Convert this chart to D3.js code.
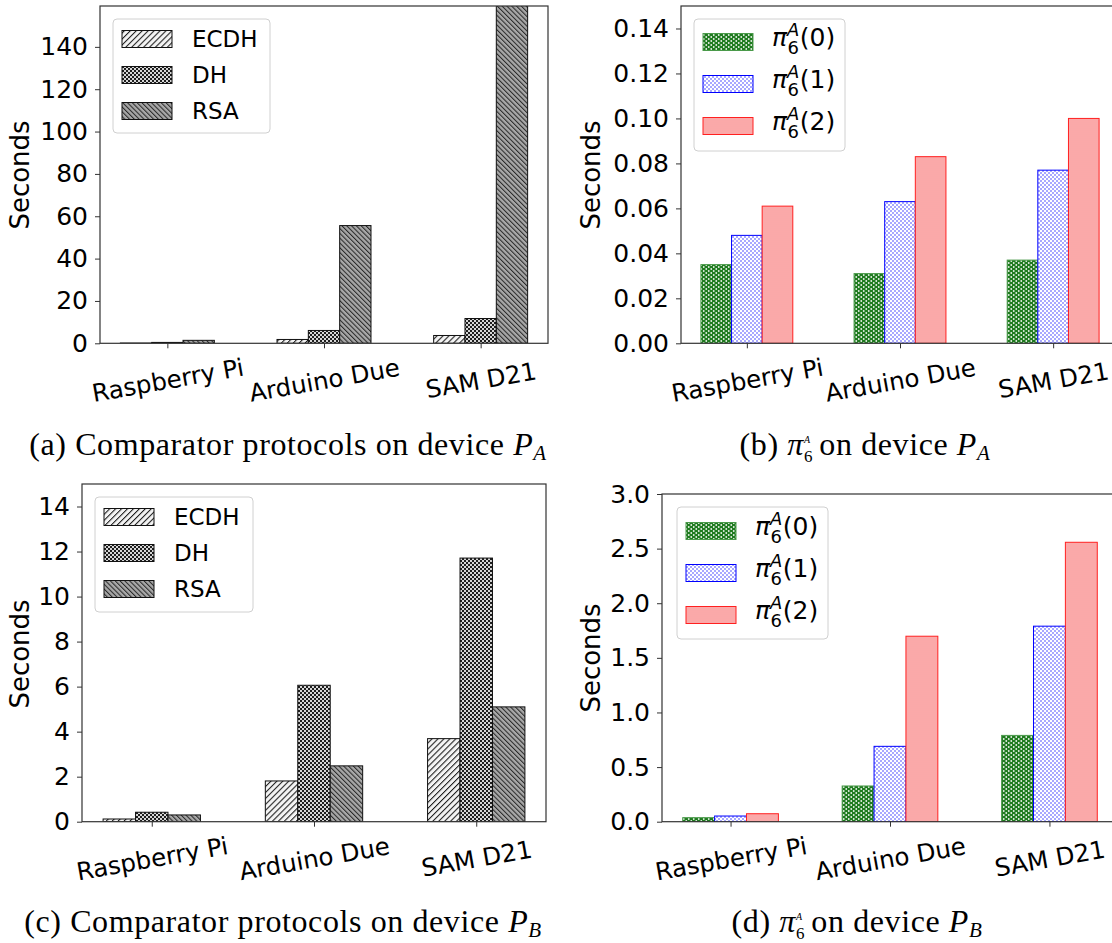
<!DOCTYPE html>
<html>
<head>
<meta charset="utf-8">
<script src="https://cdn.jsdelivr.net/npm/d3@7"></script>
<style>
  body { margin: 0; background: #fff; }
  svg { display: block; }
  .tick text { font-family: "DejaVu Sans", sans-serif; fill: #000; }
</style>
</head>
<body>
<svg id="fig" width="1112" height="943"></svg>
<script>
// categories on the x axis
var devices = ['Raspberry Pi', 'Arduino Due', 'SAM D21'];

// (a) comparator protocols on P_A (seconds)
var ecdhPA = [0.12, 1.81, 3.69];
var dhPA = [0.42, 6.06, 11.71];
var rsaPA = [1.4, 55.6, 165];   // SAM D21 runs off the top of the axis

// (c) comparator protocols on P_B
var ecdhPB = [0.12, 1.81, 3.69];
var dhPB = [0.42, 6.06, 11.71];
var rsaPB = [0.3, 2.48, 5.1];

// (b) pi_6^A on P_A
var pi0PA = [0.035, 0.031, 0.037];
var pi1PA = [0.048, 0.063, 0.077];
var pi2PA = [0.061, 0.083, 0.100];

// (d) pi_6^A on P_B
var pi0PB = [0.037, 0.327, 0.79];
var pi1PB = [0.052, 0.69, 1.79];
var pi2PB = [0.073, 1.698, 2.558];

var protoNames = ['ECDH', 'DH', 'RSA'];
var piNames = ['0', '1', '2'];

var ticksA = [0, 20, 40, 60, 80, 100, 120, 140];
var ticksB = [0, 0.02, 0.04, 0.06, 0.08, 0.10, 0.12, 0.14];
var ticksC = [0, 2, 4, 6, 8, 10, 12, 14];
var ticksD = [0, 0.5, 1.0, 1.5, 2.0, 2.5, 3.0];

var svg = d3.select('#fig');
var defs = svg.append('defs');

// hatch patterns (imitating matplotlib hatches)
function linePattern(id, size, angle, bg, stroke, sw) {
    var p = defs.append('pattern').attr('id', id)
        .attr('patternUnits', 'userSpaceOnUse')
        .attr('width', size).attr('height', size)
        .attr('patternTransform', 'rotate(' + angle + ')');
    p.append('rect').attr('width', size).attr('height', size).attr('fill', bg);
    p.append('line').attr('x1', 0.5).attr('y1', 0).attr('x2', 0.5).attr('y2', size)
        .attr('stroke', stroke).attr('stroke-width', sw);
}
linePattern('pEcdh', 4.2, 45, '#f4f4f4', '#1a1a1a', 1.1);
linePattern('pRsa', 3.4, -45, '#a8a8a8', '#2a2a2a', 1.1);

var pDh = defs.append('pattern').attr('id', 'pDh')
    .attr('patternUnits', 'userSpaceOnUse').attr('width', 4).attr('height', 4);
pDh.append('rect').attr('width', 4).attr('height', 4).attr('fill', '#d6d6d6');
pDh.append('rect').attr('width', 2).attr('height', 2).attr('fill', '#1e1e1e');
pDh.append('rect').attr('x', 2).attr('y', 2).attr('width', 2).attr('height', 2).attr('fill', '#1e1e1e');

var pGreen = defs.append('pattern').attr('id', 'pGreen')
    .attr('patternUnits', 'userSpaceOnUse').attr('width', 5).attr('height', 4);
pGreen.append('rect').attr('width', 5).attr('height', 4).attr('fill', '#1f7a1f');
pGreen.append('circle').attr('cx', 1.25).attr('cy', 1).attr('r', 0.9).attr('fill', '#e8f2e8');
pGreen.append('circle').attr('cx', 3.75).attr('cy', 3).attr('r', 0.9).attr('fill', '#e8f2e8');

var pBlue = defs.append('pattern').attr('id', 'pBlue')
    .attr('patternUnits', 'userSpaceOnUse').attr('width', 4).attr('height', 4);
pBlue.append('rect').attr('width', 4).attr('height', 4).attr('fill', '#fff');
pBlue.append('circle').attr('cx', 1).attr('cy', 1).attr('r', 0.8).attr('fill', '#3a3aff');
pBlue.append('circle').attr('cx', 3).attr('cy', 3).attr('r', 0.8).attr('fill', '#3a3aff');

var pRed = defs.append('pattern').attr('id', 'pRed')
    .attr('patternUnits', 'userSpaceOnUse').attr('width', 4).attr('height', 2);
pRed.append('rect').attr('width', 4).attr('height', 2).attr('fill', '#ffb8b8');
pRed.append('line').attr('x1', 0).attr('y1', 1).attr('x2', 4).attr('y2', 1)
    .attr('stroke', '#f08484').attr('stroke-width', 0.6);

var grayStyles = [
    {fill: 'url(#pEcdh)', stroke: '#111'},
    {fill: 'url(#pDh)', stroke: '#111'},
    {fill: 'url(#pRsa)', stroke: '#111'}
];
var piStyles = [
    {fill: 'url(#pGreen)', stroke: '#4a9a4a'},
    {fill: 'url(#pBlue)', stroke: '#0000ff'},
    {fill: 'url(#pRed)', stroke: '#ff2020'}
];

function piLabel(g, x, y, n) {
    var t = g.append('text').attr('x', x).attr('y', y)
        .attr('font-family', '"DejaVu Sans", sans-serif').attr('font-size', 25);
    t.append('tspan').attr('font-style', 'italic').text('\u03c0');
    t.append('tspan').attr('font-style', 'italic').attr('font-size', 18).attr('dy', -10).text('A');
    t.append('tspan').attr('font-size', 18).attr('dx', -12).attr('dy', 18).text('6');
    t.append('tspan').attr('dy', -8).attr('dx', 1).text('(' + n + ')');
}

function drawPanel(cfg) {
    var g = svg.append('g');
    var x = d3.scaleLinear().domain([-0.43, 2.43]).range([cfg.x0, cfg.x1]);
    var y = d3.scaleLinear().domain([0, cfg.ymax]).range([cfg.y1, cfg.y0]);
    var w = 0.2;

    var clipId = 'clip' + cfg.key;
    defs.append('clipPath').attr('id', clipId).append('rect')
        .attr('x', cfg.x0).attr('y', cfg.y0)
        .attr('width', cfg.x1 - cfg.x0).attr('height', cfg.y1 - cfg.y0);

    var bars = g.append('g').attr('clip-path', 'url(#' + clipId + ')');
    cfg.series.forEach(function(vals, s) {
        bars.selectAll('rect.s' + s).data(vals).enter().append('rect')
            .attr('class', 's' + s)
            .attr('x', function(d, i) { return x(i + (s - 1) * w - w / 2); })
            .attr('width', x(w) - x(0))
            .attr('y', function(d) { return y(d); })
            .attr('height', function(d) { return y(0) - y(d); })
            .attr('fill', cfg.styles[s].fill)
            .attr('stroke', cfg.styles[s].stroke)
            .attr('stroke-width', 1);
    });

    // frame
    g.append('rect').attr('x', cfg.x0).attr('y', cfg.y0)
        .attr('width', cfg.x1 - cfg.x0).attr('height', cfg.y1 - cfg.y0)
        .attr('fill', 'none').attr('stroke', '#333').attr('stroke-width', 1.2);

    var yAxis = d3.axisLeft(y).tickValues(cfg.ticks).tickFormat(d3.format(cfg.fmt))
        .tickSize(5).tickPadding(7).tickSizeOuter(0);
    var ya = g.append('g').attr('transform', 'translate(' + cfg.x0 + ',0)').call(yAxis);
    ya.select('.domain').remove();
    ya.selectAll('.tick line').attr('stroke', '#333');
    ya.selectAll('.tick text').attr('font-size', 25);

    var xAxis = d3.axisBottom(x).tickValues([0, 1, 2])
        .tickFormat(function(i) { return devices[i]; })
        .tickSize(5).tickSizeOuter(0);
    var xa = g.append('g').attr('transform', 'translate(0,' + cfg.y1 + ')').call(xAxis);
    xa.select('.domain').remove();
    xa.selectAll('.tick line').attr('stroke', '#333');
    xa.selectAll('.tick text').attr('font-size', 24.5)
        .attr('y', 0).attr('dy', null)
        .attr('dominant-baseline', 'central')
        .attr('transform', 'translate(0,37) rotate(-10)');

    g.append('text')
        .attr('transform', 'translate(' + cfg.ylabX + ',' + cfg.ylabY + ') rotate(-90)')
        .attr('text-anchor', 'middle').attr('dominant-baseline', 'central')
        .attr('font-family', '"DejaVu Sans", sans-serif').attr('font-size', 26)
        .text('Seconds');

    // legend
    var L = cfg.legend;
    var lg = g.append('g');
    lg.append('rect').attr('x', L.x).attr('y', L.y).attr('width', L.w).attr('height', L.h)
        .attr('rx', 4).attr('fill', '#fff').attr('fill-opacity', 0.8)
        .attr('stroke', '#d0d0d0').attr('stroke-width', 1);
    cfg.names.forEach(function(name, s) {
        var cy = L.y + L.first + s * L.step;
        lg.append('rect').attr('x', L.x + 9).attr('y', cy - 8.5)
            .attr('width', 50).attr('height', 17)
            .attr('fill', cfg.styles[s].fill).attr('stroke', cfg.styles[s].stroke);
        if (cfg.math) {
            piLabel(lg, L.x + 78, cy + 4, name);
        } else {
            lg.append('text').attr('x', L.x + 79).attr('y', cy)
                .attr('dominant-baseline', 'central')
                .attr('font-family', '"DejaVu Sans", sans-serif').attr('font-size', 23)
                .text(name);
        }
    });
}

drawPanel({key: 'a', x0: 100, x1: 548, y0: 6, y1: 343.3, ymax: 159.3,
    ticks: ticksA, fmt: 'd', series: [ecdhPA, dhPA, rsaPA], styles: grayStyles,
    names: protoNames, math: false, ylabX: 20, ylabY: 175,
    legend: {x: 113, y: 19, w: 157, h: 114, first: 20, step: 36}});

drawPanel({key: 'b', x0: 681, x1: 1119, y0: 6, y1: 343.3, ymax: 0.15,
    ticks: ticksB, fmt: '.2f', series: [pi0PA, pi1PA, pi2PA], styles: piStyles,
    names: piNames, math: true, ylabX: 591, ylabY: 175,
    legend: {x: 694, y: 19, w: 151, h: 132, first: 23, step: 42}});

drawPanel({key: 'c', x0: 82, x1: 546, y0: 484, y1: 821.7, ymax: 15,
    ticks: ticksC, fmt: 'd', series: [ecdhPB, dhPB, rsaPB], styles: grayStyles,
    names: protoNames, math: false, ylabX: 20, ylabY: 654,
    legend: {x: 95, y: 497, w: 158, h: 115, first: 20, step: 36}});

drawPanel({key: 'd', x0: 662, x1: 1118, y0: 494, y1: 821.7, ymax: 3.0,
    ticks: ticksD, fmt: '.1f', series: [pi0PB, pi1PB, pi2PB], styles: piStyles,
    names: piNames, math: true, ylabX: 591, ylabY: 658,
    legend: {x: 677, y: 507, w: 151, h: 132, first: 24, step: 42}});

// captions
function caption(cx, cy, letter, isPi, dev) {
    var t = svg.append('text').attr('x', cx).attr('y', cy).attr('text-anchor', 'middle')
        .attr('font-family', '"Liberation Serif", serif').attr('font-size', 32)
        .attr('letter-spacing', 0.6);
    if (isPi) {
        t.append('tspan').text('(' + letter + ') ');
        t.append('tspan').attr('font-style', 'italic').text('\u03c0');
        t.append('tspan').attr('font-size', 17).attr('dy', 7).text('6');
        t.append('tspan').attr('font-size', 10).attr('font-style', 'italic')
            .attr('dx', -9).attr('dy', -19).text('A');
        t.append('tspan').attr('dy', 12).text(' on device ');
    } else {
        t.append('tspan').text('(' + letter + ') Comparator protocols on device ');
    }
    t.append('tspan').attr('font-style', 'italic').text('P');
    t.append('tspan').attr('font-style', 'italic').attr('font-size', 21).attr('dy', 5).text(dev);
}
caption(288, 455, 'a', false, 'A');
caption(865, 455, 'b', true, 'A');
caption(283, 932, 'c', false, 'B');
caption(857, 932, 'd', true, 'B');
</script>
</body>
</html>
